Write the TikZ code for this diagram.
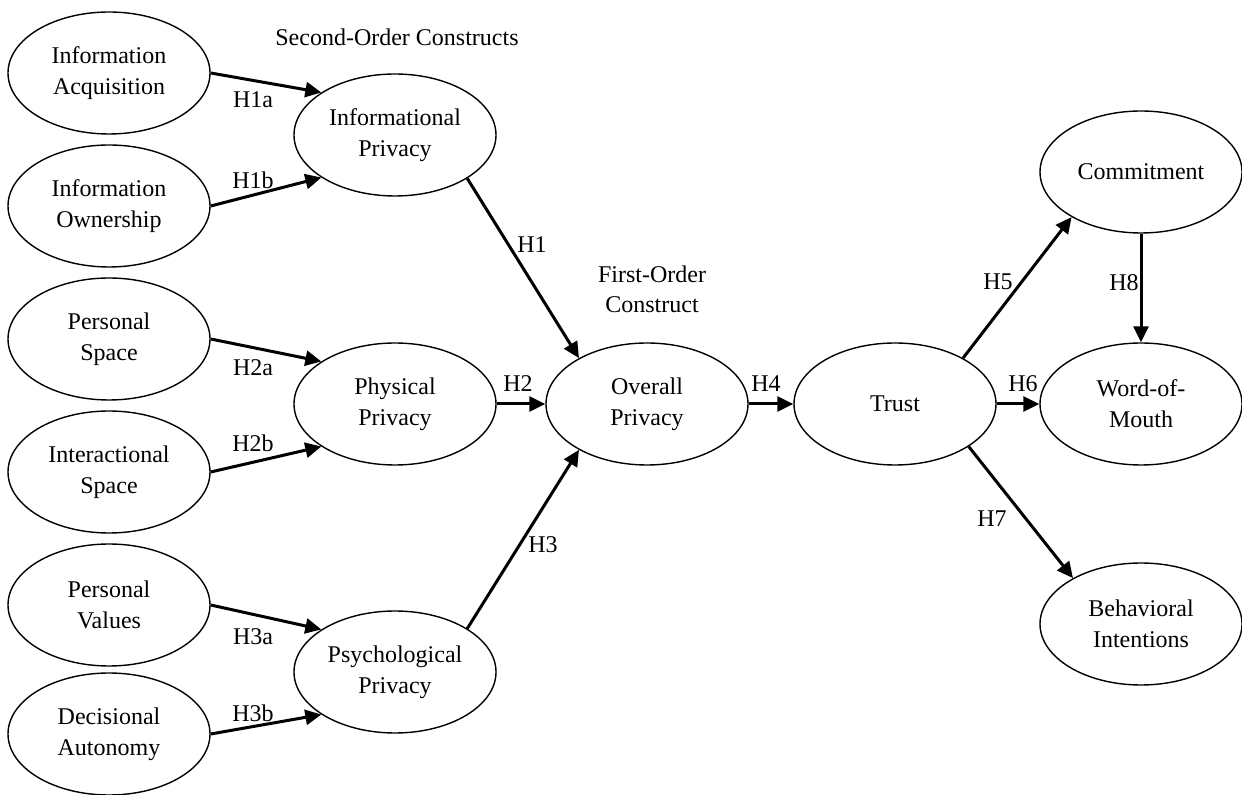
\documentclass[tikz,border=0pt]{standalone}
\usepackage{fontspec}
\setmainfont{Liberation Serif}
\usetikzlibrary{shapes.geometric}
\usetikzlibrary{arrows.meta}

\begin{document}
\begin{tikzpicture}[x=0.5pt,y=-0.5pt,
  construct/.style={draw, ellipse, line width=0.7pt, minimum width=101pt, minimum height=61pt, inner sep=0pt, align=center, font=\fontsize{12}{15.5}\selectfont},
  hyp/.style={-{Triangle[length=8pt,width=7.5pt]}, line width=1.5pt},
  lbl/.style={font=\fontsize{12}{15}\selectfont, inner sep=0pt, align=center}]
\useasboundingbox (0,0) rectangle (1242,795);

% dimensions
\node[construct] (ia) at (109,73) {Information\\Acquisition};
\node[construct] (io) at (109,206) {Information\\Ownership};
\node[construct] (ps) at (109,339) {Personal\\Space};
\node[construct] (is) at (109,472) {Interactional\\Space};
\node[construct] (pv) at (109,605) {Personal\\Values};
\node[construct] (da) at (109,734) {Decisional\\Autonomy};

% second-order constructs
\node[construct] (ip) at (395,135) {Informational\\Privacy};
\node[construct] (php) at (395,404) {Physical\\Privacy};
\node[construct] (psp) at (395,672) {Psychological\\Privacy};

% first-order construct and outcomes
\node[construct] (op) at (647,404) {Overall\\Privacy};
\node[construct] (tr) at (895,404) {Trust};
\node[construct] (cm) at (1141,172) {Commitment};
\node[construct] (wom) at (1141,404) {Word-of-\\Mouth};
\node[construct] (bi) at (1141,624) {Behavioral\\Intentions};

\node[lbl] (soc) at (397,37) {Second-Order Constructs};
\node[lbl] (foc) at (652,289) {First-Order\\Construct};

\draw[hyp] (ia.east) -- (ip.150);
\draw[hyp] (io.east) -- (ip.210);
\draw[hyp] (ps.east) -- (php.150);
\draw[hyp] (is.east) -- (php.210);
\draw[hyp] (pv.east) -- (psp.150);
\draw[hyp] (da.east) -- (psp.210);

\draw[hyp] (ip.-31) -- (op.146);
\draw[hyp] (php.east) -- (op.west);
\draw[hyp] (psp.31) -- (op.-146);
\draw[hyp] (op.east) -- (tr.west);
\draw[hyp] (tr.34) -- (cm.213);
\draw[hyp] (tr.east) -- (wom.west);
\draw[hyp] (tr.-30) -- (bi.146);
\draw[hyp] (cm.south) -- (wom.north);

% hypothesis labels
\node[lbl] (h1a) at (253,100) {H1a};
\node[lbl] (h1b) at (253,180) {H1b};
\node[lbl] (h2a) at (253,368) {H2a};
\node[lbl] (h2b) at (253,443) {H2b};
\node[lbl] (h3a) at (253,637) {H3a};
\node[lbl] (h3b) at (253,713) {H3b};
\node[lbl] (h1) at (532,245) {H1};
\node[lbl] (h2) at (518,384) {H2};
\node[lbl] (h3) at (543,545) {H3};
\node[lbl] (h4) at (766,384) {H4};
\node[lbl] (h5) at (998,282) {H5};
\node[lbl] (h6) at (1023,384) {H6};
\node[lbl] (h7) at (992,519) {H7};
\node[lbl] (h8) at (1124,283) {H8};

\end{tikzpicture}
\end{document}
